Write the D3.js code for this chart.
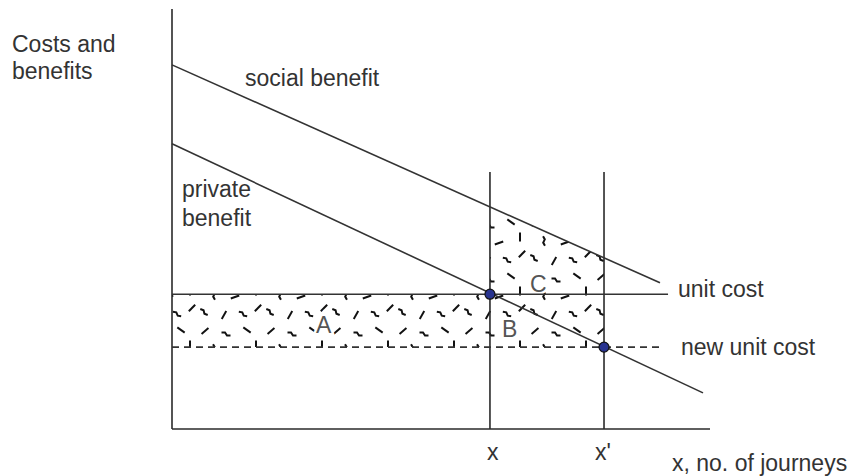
<!DOCTYPE html>
<html>
<head>
<meta charset="utf-8">
<script src="https://cdn.jsdelivr.net/npm/d3@7"></script>
<style>
  html, body { margin: 0; padding: 0; background: #fff; }
  svg { display: block; }
  text { font-family: "Liberation Sans", Arial, Helvetica, sans-serif; fill: #333; }
</style>
</head>
<body>
<svg id="chart" width="851" height="476"></svg>
<script>
// ---- data (abstract units: 0..100 on both axes) ----
const xDomain = [0, 100];
const yDomain = [0, 100];
const socialBenefit = [[0, 86.7], [90.7, 34.8]];
const privateBenefit = [[0, 67.9], [98.7, 8.6]];
const unitCost = [[0, 32.1], [92.2, 32.1]];
const newUnitCost = [[0, 19.5], [91.1, 19.5]];
const journeyValues = [59.1, 80.3];
const journeyLabels = ["x", "x'"];
const verticalTop = 61.2;
const equilibria = [[59.1, 32.1], [80.3, 19.5]];
const areaLabels = ["A", "B", "C"];

// ---- scales ----
const svg = d3.select("#chart");
const x = d3.scaleLinear().domain(xDomain).range([172, 710]);
const y = d3.scaleLinear().domain(yDomain).range([429, 9]);
const line = d3.line().x(d => x(d[0])).y(d => y(d[1]));

// helper: value of a straight line at a given x
function at(seg, xv) {
  const [[x0, y0], [x1, y1]] = seg;
  return y0 + (y1 - y0) * (xv - x0) / (x1 - x0);
}

// ---- hatch pattern (texture only) ----
const defs = svg.append("defs");
const pat = defs.append("pattern")
  .attr("id", "hatch").attr("patternUnits", "userSpaceOnUse")
  .attr("width", 66).attr("height", 54);
const marks = [
  [7, 7, -40, 0], [28, 10, 0, 1], [49, 6, 35, 0], [16, 25, 60, 1],
  [37, 27, -20, 0], [58, 21, 90, 0], [6, 42, 20, 1], [26, 45, -60, 0],
  [45, 44, 10, 1], [60, 38, -45, 0]
];
marks.forEach(([mx, my, ang, kink]) => {
  pat.append("path")
    .attr("d", kink ? "M-4.5,-1.5 L-1,-1.5 L1,1.5 L4.5,1.5" : "M-4.5,0 L4.5,0")
    .attr("transform", `translate(${mx},${my}) rotate(${ang})`)
    .attr("fill", "none").attr("stroke", "#111").attr("stroke-width", 2);
});

// ---- hatched areas ----
const xa = journeyValues[0], xb = journeyValues[1];
const uc = unitCost[0][1], nuc = newUnitCost[0][1];
const areas = [
  [[0, uc], [xa, uc], [xa, nuc], [0, nuc]],
  [[xa, uc], [xb, uc], [xb, nuc], [xa, nuc]],
  [[xa, uc], [xa, at(socialBenefit, xa)], [xb, at(socialBenefit, xb)], [xb, uc]]
];
svg.append("g").selectAll("path").data(areas).join("path")
  .attr("d", d => line(d) + "Z")
  .attr("fill", "url(#hatch)").attr("stroke", "none");

// ---- area letters (with white halo so hatch doesn't cover them) ----
const areaPos = [[316, 333], [502, 337], [530, 292]];
svg.append("g").selectAll("text").data(areaLabels).join("text")
  .attr("x", (d, i) => areaPos[i][0]).attr("y", (d, i) => areaPos[i][1])
  .attr("font-size", 23)
  .style("fill", "#555").style("stroke", "#fff").style("stroke-width", 5)
  .style("paint-order", "stroke")
  .text(d => d);

// ---- axes ----
const axisColor = "#2a2a2a";
svg.append("line").attr("x1", x(0)).attr("x2", x(0)).attr("y1", y(0)).attr("y2", y(100))
  .attr("stroke", axisColor).attr("stroke-width", 1.6);
svg.append("line").attr("x1", x(0)).attr("x2", x(100)).attr("y1", y(0)).attr("y2", y(0))
  .attr("stroke", axisColor).attr("stroke-width", 1.6);

// ---- vertical journey lines ----
svg.append("g").selectAll("line").data(journeyValues).join("line")
  .attr("x1", d => x(d)).attr("x2", d => x(d))
  .attr("y1", y(0)).attr("y2", y(verticalTop))
  .attr("stroke", axisColor).attr("stroke-width", 1.6);

// ---- curves ----
[socialBenefit, privateBenefit, unitCost].forEach(seg => {
  svg.append("path").attr("d", line(seg)).attr("fill", "none")
    .attr("stroke", "#333").attr("stroke-width", 1.6);
});
svg.append("path").attr("d", line(newUnitCost)).attr("fill", "none")
  .attr("stroke", "#333").attr("stroke-width", 1.6).attr("stroke-dasharray", "7,5");

// ---- equilibrium dots ----
svg.append("g").selectAll("circle").data(equilibria).join("circle")
  .attr("cx", d => x(d[0])).attr("cy", d => y(d[1])).attr("r", 5)
  .attr("fill", "#28338f").attr("stroke", "#111").attr("stroke-width", 1.2);

// ---- text ----
const fs = 23;
function label(txt, px, py, opts = {}) {
  return svg.append("text").attr("x", px).attr("y", py)
    .attr("font-size", opts.size || fs)
    .attr("text-anchor", opts.anchor || "start")
    .style("fill", opts.color || "#333")
    .text(txt);
}
label("Costs and", 12, 52);
label("benefits", 12, 79);
label("social benefit", 245, 86);
label("private", 182, 197);
label("benefit", 182, 226);
label("unit cost", 678, 297);
label("new unit cost", 681, 355);
label("x, no. of journeys", 672, 471);
journeyValues.forEach((v, i) => label(journeyLabels[i], x(v) - 3 + (i ? -6 : 0), 460, { anchor: "start" }));
</script>
</body>
</html>
